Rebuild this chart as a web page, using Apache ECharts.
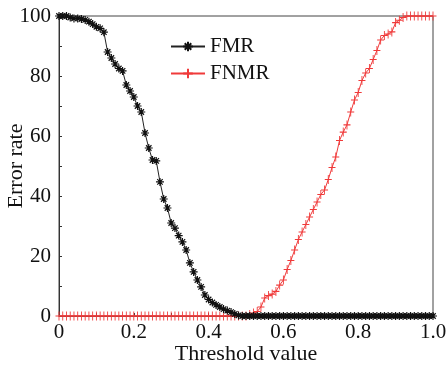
<!DOCTYPE html>
<html>
<head>
<meta charset="utf-8">
<script src="https://cdn.jsdelivr.net/npm/echarts@6/dist/echarts.min.js"></script>
<style>html,body{margin:0;padding:0;background:#fff;}#c{width:448px;height:370px;}</style>
</head>
<body>
<div id="c"></div>
<script>
// Threshold grid 0.00 .. 1.00, step 0.01
const thresholds = [];
for (let i = 0; i <= 100; i++) thresholds.push(+(i / 100).toFixed(2));

const fmr = [100,100,100,99.5,99.2,99.2,99.0,98.7,98.1,97.3,
  96.4,95.9,94.6,88,86,84,82.5,81.7,77,75,
  73,70,68,61,56,52,51.7,44.7,39,36,
  31,29.3,26.8,24.7,22,17.7,14.7,12,9.7,7,
  5.5,4.5,3.7,3,2.3,1.8,1.3,0.7,0.2,0,
  0,0,0,0,0,0,0,0,0,0,
  0,0,0,0,0,0,0,0,0,0,
  0,0,0,0,0,0,0,0,0,0,
  0,0,0,0,0,0,0,0,0,0,
  0,0,0,0,0,0,0,0,0,0,
  0];
const fnmr = [0,0,0,0,0,0,0,0,0,0,
  0,0,0,0,0,0,0,0,0,0,
  0,0,0,0,0,0,0,0,0,0,
  0,0,0,0,0,0,0,0,0,0,
  0,0,0,0,0,0,0,0,0,0,
  0,0.5,1,1.5,3,6,6.8,7.3,8.2,10.3,
  12,15.5,18.5,22,25.5,28,30.5,33,35.5,38,
  40.5,42,45.5,49.5,53,58.5,61.3,63.7,68,72,
  74.5,78.5,81,82.5,85.5,88.5,92,93.5,94,94.7,
  97.8,98.6,99.5,100,100,100,100,100,100,100,
  100];
const seriesNames = ['FMR', 'FNMR'];
const xTicks = ['0', '0.2', '0.4', '0.6', '0.8', '1.0'];
const yTicks = [0, 20, 40, 60, 80, 100];

const serif = 'Liberation Serif';
const starPath = 'path://M5,0L5,10M0,5L10,5M1.6,1.6L8.4,8.4M8.4,1.6L1.6,8.4';
const plusPath = 'path://M5,0L5,10M0,5L10,5';

const chart = echarts.init(document.getElementById('c'), null, {renderer: 'canvas'});
chart.setOption({
  animation: false,
  backgroundColor: '#fff',
  grid: {left: 59, right: 15, top: 16, bottom: 54, outerBoundsMode: 'none', containLabel: false,
    show: true, borderColor: '#444', borderWidth: 1, backgroundColor: 'transparent'},
  legend: {
    data: seriesNames,
    orient: 'vertical',
    left: 165,
    top: 31,
    itemWidth: 34,
    itemHeight: 12,
    itemGap: 6,
    textStyle: {fontFamily: serif, fontSize: 21, color: '#111'}
  },
  xAxis: {
    type: 'value', min: 0, max: 1, interval: 0.2,
    name: 'Threshold value', nameLocation: 'middle', nameGap: 27, nameMoveOverlap: false,
    nameTextStyle: {fontFamily: serif, fontSize: 22, color: '#111'},
    axisLine: {show: true, lineStyle: {color: '#333', width: 1}},
    axisTick: {show: true, inside: true, length: 3, lineStyle: {color: '#333'}},
    minorTick: {show: true, splitNumber: 2, length: 3, lineStyle: {color: '#333'}},
    splitLine: {show: false},
    axisLabel: {fontFamily: serif, fontSize: 21, color: '#111', margin: 6,
      formatter: v => xTicks[Math.round(v / 0.2)]}
  },
  yAxis: {
    type: 'value', min: 0, max: 100, interval: 20,
    name: 'Error rate', nameLocation: 'middle', nameGap: 32, nameMoveOverlap: false,
    nameTextStyle: {fontFamily: serif, fontSize: 22, color: '#111'},
    axisLine: {show: true, lineStyle: {color: '#333', width: 1}},
    axisTick: {show: true, inside: true, length: 3, lineStyle: {color: '#333'}},
    minorTick: {show: true, splitNumber: 2, length: 3, lineStyle: {color: '#333'}},
    splitLine: {show: false},
    axisLabel: {fontFamily: serif, fontSize: 21, color: '#111', margin: 8,
      formatter: v => (yTicks.indexOf(v) >= 0 ? String(v) : '')}
  },
  series: [
    {
      name: seriesNames[0], type: 'line',
      data: thresholds.map((t, i) => [t, fmr[i]]),
      symbol: starPath, symbolSize: 8, showSymbol: true,
      lineStyle: {color: '#222', width: 1},
      itemStyle: {color: '#111', borderColor: '#111', borderWidth: 1.2},
      emphasis: {disabled: true}, z: 3
    },
    {
      name: seriesNames[1], type: 'line',
      data: thresholds.map((t, i) => [t, fnmr[i]]),
      symbol: plusPath, symbolSize: [7, 9], showSymbol: true,
      lineStyle: {color: '#f03a3a', width: 1},
      itemStyle: {color: '#f03a3a', borderColor: '#f03a3a', borderWidth: 1},
      emphasis: {disabled: true}, z: 2
    }
  ]
});
</script>
</body>
</html>
